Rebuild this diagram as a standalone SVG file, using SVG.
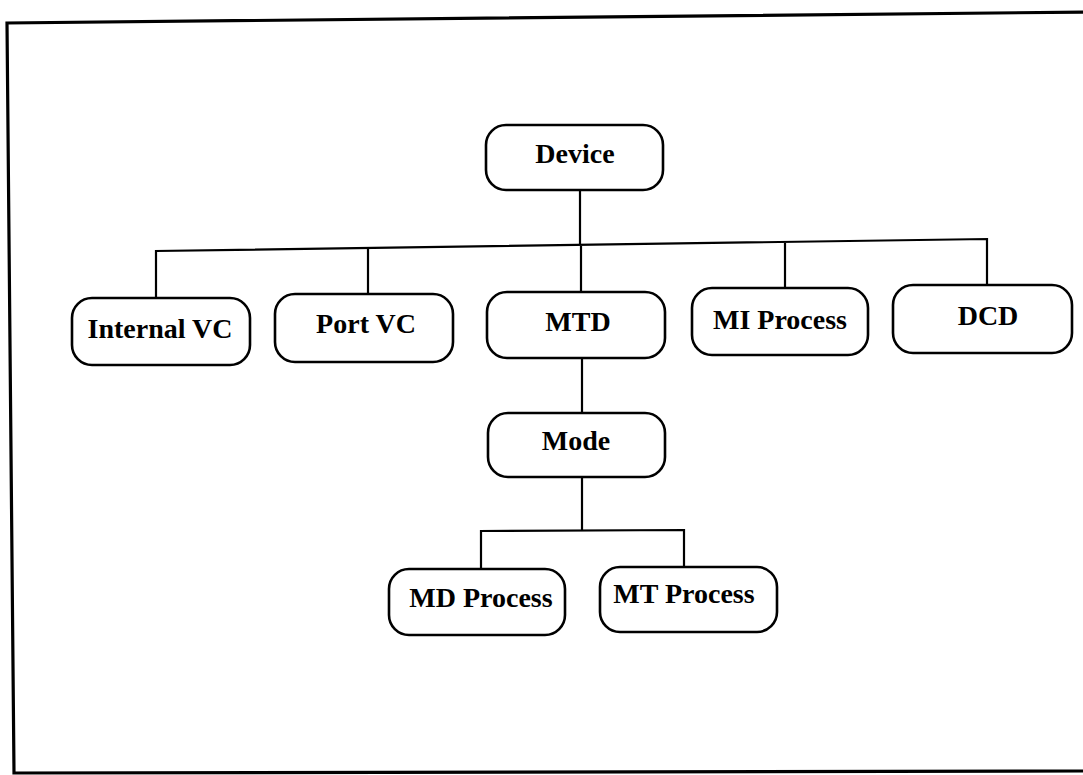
<svg xmlns="http://www.w3.org/2000/svg" width="1083" height="775" viewBox="0 0 1083 775">
<style>
.box{fill:#fff;stroke:#000;stroke-width:2.6}
.lbl{font-family:"Liberation Serif","Times New Roman",serif;font-weight:bold;font-size:28px;text-anchor:middle;fill:#000}
.ln{fill:none;stroke:#000;stroke-width:2.2}
.frame{fill:none;stroke:#000;stroke-width:3.2}
</style>
<rect x="0" y="0" width="1083" height="775" fill="#fff"/>
<path class="frame" d="M1090 12 L7 23 L14 773 L1090 771"/>
<g id="connectors">
<path class="ln" d="M580 190 L580 245"/>
<path class="ln" d="M156 298 L156 251 L987 239 L987 285"/>
<path class="ln" d="M368 294 L368 248"/>
<path class="ln" d="M581 292 L581 246"/>
<path class="ln" d="M785 288 L785 243"/>
<path class="ln" d="M582 358 L582 413"/>
<path class="ln" d="M582 477 L582 530"/>
<path class="ln" d="M481 569 L481 531 L684 530 L684 567"/>
</g>
<g id="device"><rect class="box" x="486" y="125" width="177" height="65" rx="20"/><text class="lbl" x="575" y="163">Device</text></g>
<g id="internal-vc"><rect class="box" x="72" y="298" width="178" height="67" rx="20"/><text class="lbl" x="160" y="338">Internal VC</text></g>
<g id="port-vc"><rect class="box" x="275" y="294" width="178" height="68" rx="20"/><text class="lbl" x="366" y="333">Port VC</text></g>
<g id="mtd"><rect class="box" x="487" y="292" width="178" height="66" rx="20"/><text class="lbl" x="578" y="331">MTD</text></g>
<g id="mi-process"><rect class="box" x="692" y="288" width="176" height="67" rx="20"/><text class="lbl" x="780" y="329">MI Process</text></g>
<g id="dcd"><rect class="box" x="893" y="285" width="179" height="68" rx="20"/><text class="lbl" x="988" y="325">DCD</text></g>
<g id="mode"><rect class="box" x="488" y="413" width="177" height="64" rx="20"/><text class="lbl" x="576" y="450">Mode</text></g>
<g id="md-process"><rect class="box" x="389" y="569" width="176" height="66" rx="20"/><text class="lbl" x="481" y="607">MD Process</text></g>
<g id="mt-process"><rect class="box" x="600" y="567" width="177" height="65" rx="20"/><text class="lbl" x="684" y="603">MT Process</text></g>
</svg>
